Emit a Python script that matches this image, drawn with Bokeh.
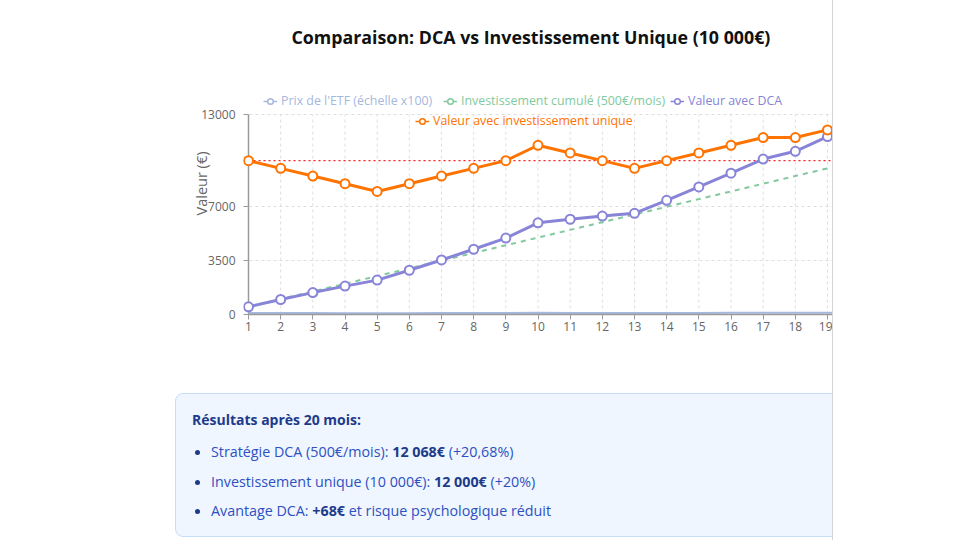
from bokeh.embed import file_html
from bokeh.layouts import column, row
from bokeh.models import (CDSView, ColumnDataSource, Div, FixedTicker, IndexFilter,
                          Legend, LegendItem, NumeralTickFormatter, Range1d, Span)
from bokeh.plotting import figure
from bokeh.resources import INLINE

# --- data -----------------------------------------------------------------
months = list(range(1, 21))
etf_price = [100, 95, 90, 85, 80, 85, 90, 95, 100, 110,
             105, 100, 95, 100, 105, 110, 115, 115, 120, 120]
invested = [500, 1000, 1500, 2000, 2500, 3000, 3500, 4000, 4500, 5000,
            5500, 6000, 6500, 7000, 7500, 8000, 8500, 9000, 9500, 10000]
dca_value = [500, 975, 1424, 1845, 2236, 2876, 3545, 4242, 4965, 5962,
             6191, 6396, 6576, 7422, 8293, 9188, 10106, 10606, 11567, 12068]
lump_value = [10000, 9500, 9000, 8500, 8000, 8500, 9000, 9500, 10000, 11000,
              10500, 10000, 9500, 10000, 10500, 11000, 11500, 11500, 12000, 12000]
lump_initial = 10000
monthly_amount = 500
y_ticks = [0, 3500, 7000, 13000]
y_max = 13000
last_visible_month = 19

TITLE = "Comparaison: DCA vs Investissement Unique (10 000€)"
Y_LABEL = "Valeur (€)"
SERIES = [
    ("Prix de l'ETF (échelle x100)", "#a5b8de"),
    ("Investissement cumulé (500€/mois)", "#82ca9d"),
    ("Valeur avec DCA", "#8884d8"),
    ("Valeur avec investissement unique", "#ff7300"),
]

FONT = "Open Sans"
TICK_COLOR = "#666666"
AXIS_COLOR = "#9a9a9a"
GRID_COLOR = "#dedede"

# --- geometry of the chart canvas -------------------------------------------
W, H = 832, 385
FRAME_LEFT, FRAME_TOP, FRAME_BOTTOM = 243, 52, 314
Y_MAX_PX = 114                      # pixel row of the top tick
FIRST_X, LAST_X = 248, 827          # pixel centres of the first / last visible month
px_per_month = (LAST_X - FIRST_X) / (last_visible_month - months[0])
x_start = months[0] - (FIRST_X - FRAME_LEFT) / px_per_month
x_end = last_visible_month + (W - LAST_X) / px_per_month
y_end = y_max * (FRAME_BOTTOM - FRAME_TOP) / (FRAME_BOTTOM - Y_MAX_PX)

p = figure(width=W, height=H,
           x_range=Range1d(x_start, x_end), y_range=Range1d(0, y_end),
           output_backend="svg", toolbar_location=None,
           min_border_left=FRAME_LEFT, min_border_right=0,
           min_border_top=FRAME_TOP, min_border_bottom=H - FRAME_BOTTOM,
           background_fill_color="white", border_fill_color="white")
p.outline_line_color = None

p.title.text = TITLE
p.title.align = "left"
p.title.offset = 291 - FRAME_LEFT
p.title.standoff = 8
p.title.text_font = FONT
p.title.text_font_style = "bold"
p.title.text_font_size = "17.8px"
p.title.text_color = "#111111"

# grid: horizontal lines from the ticker, vertical lines drawn per month up to the top tick
p.xgrid.visible = False
p.ygrid.ticker = FixedTicker(ticks=y_ticks)
p.ygrid.grid_line_color = GRID_COLOR
p.ygrid.grid_line_dash = "3 3"
p.segment(x0=months, y0=[0] * len(months), x1=months, y1=[y_max] * len(months),
          line_color=GRID_COLOR, line_dash="3 3", line_width=1)

# y axis: ticks from the frame edge, axis line drawn at the first month
p.yaxis.ticker = FixedTicker(ticks=y_ticks)
p.yaxis.bounds = (0, y_max)
p.yaxis.formatter = NumeralTickFormatter(format="0")
p.yaxis.axis_line_color = None
p.yaxis.major_tick_in = 5
p.yaxis.major_tick_out = 0
p.yaxis.major_tick_line_color = AXIS_COLOR
p.yaxis.minor_tick_line_color = None
p.yaxis.major_label_standoff = 8
p.yaxis.major_label_text_color = TICK_COLOR
p.yaxis.major_label_text_font = FONT
p.yaxis.major_label_text_font_size = "12px"
p.yaxis.axis_label = Y_LABEL
p.yaxis.axis_label_standoff = -13
p.yaxis.axis_label_text_font = FONT
p.yaxis.axis_label_text_font_style = "normal"
p.yaxis.axis_label_text_font_size = "14.5px"
p.yaxis.axis_label_text_color = TICK_COLOR
p.segment(x0=[months[0]], y0=[0], x1=[months[0]], y1=[y_max],
          line_color=AXIS_COLOR, line_width=1.5)

p.xaxis.ticker = FixedTicker(ticks=months)
p.xaxis.bounds = (months[0], x_end)
p.xaxis.axis_line_color = AXIS_COLOR
p.xaxis.axis_line_width = 1.5
p.xaxis.major_tick_in = 0
p.xaxis.major_tick_out = 5
p.xaxis.major_tick_line_color = AXIS_COLOR
p.xaxis.minor_tick_line_color = None
p.xaxis.major_label_standoff = 2
p.xaxis.major_label_text_color = TICK_COLOR
p.xaxis.major_label_text_font = FONT
p.xaxis.major_label_text_font_size = "12px"

p.add_layout(Span(location=lump_initial, dimension="width", line_color="#ff2020",
                  line_width=1.2, line_dash="2 3", level="underlay"))

# --- series -----------------------------------------------------------------
src = ColumnDataSource(dict(month=months, etf=etf_price, invested=invested,
                            dca=dca_value, lump=lump_value))

p.line("month", "etf", source=src, line_color=SERIES[0][1], line_width=2)
p.line("month", "invested", source=src, line_color=SERIES[1][1], line_width=2, line_dash="5 5")
p.line("month", "dca", source=src, line_color=SERIES[2][1], line_width=3)
p.scatter("month", "dca", source=src, size=9, fill_color="white",
          line_color=SERIES[2][1], line_width=2)
p.line("month", "lump", source=src, line_color=SERIES[3][1], line_width=3)
p.scatter("month", "lump", source=src, size=9, fill_color="white",
          line_color=SERIES[3][1], line_width=2)

# legend icons: a short solid line with a hollow dot (single-point helpers draw nothing on the plot)
def legend_entry(label, color, vx, vy):
    ln = p.line("month", "etf", source=src, view=CDSView(filter=IndexFilter([0])),
                line_color=color, line_width=1.5)
    dot = p.scatter("month", "etf", source=src, view=CDSView(filter=IndexFilter([0])),
                    size=0, fill_color="white", line_color=color, line_width=1.5)
    lg = Legend(items=[LegendItem(label=label, renderers=[ln, dot])],
                location=(vx, vy), orientation="horizontal",
                padding=0, margin=0, spacing=0,
                glyph_width=14, glyph_height=16, label_height=16, label_standoff=4,
                label_text_font=FONT, label_text_font_size="12.4px",
                label_text_color=color,
                background_fill_alpha=0, border_line_alpha=0)
    p.add_layout(lg, "center")

legend_rows = [(263, 101), (443, 101), (670, 101), (415, 121)]
for (label, color), (lx, ly) in zip(SERIES, legend_rows):
    legend_entry(label, color, lx - FRAME_LEFT, FRAME_BOTTOM - (ly + 8))

# --- results panel ------------------------------------------------------------
def fr_number(v):
    return f"{v:,.0f}".replace(",", " ")

def fr_pct(v):
    s = f"{v:.2f}".rstrip("0").rstrip(".")
    return s.replace(".", ",")

n_months = months[-1]
dca_final = dca_value[-1]
lump_final = lump_value[-1]
dca_total = invested[-1]
dca_gain = (dca_final - dca_total) / dca_total * 100
lump_gain = (lump_final - lump_initial) / lump_initial * 100
advantage = dca_final - lump_final

HEAD = "#1e3a8a"
BODY = "#2d50c2"
lines = [
    f"Stratégie DCA ({monthly_amount}€/mois): <b style='color:{HEAD}'>{fr_number(dca_final)}€</b> (+{fr_pct(dca_gain)}%)",
    f"Investissement unique ({fr_number(lump_initial)}€): <b style='color:{HEAD}'>{fr_number(lump_final)}€</b> (+{fr_pct(lump_gain)}%)",
    f"Avantage DCA: <b style='color:{HEAD}'>+{fr_number(advantage)}€</b> et risque psychologique réduit",
]
items_html = ""
for i, txt in enumerate(lines):
    top = 48 + i * 29.5
    items_html += (
        f"<div style='position:absolute;left:19px;top:{top + 8}px;width:5px;height:5px;"
        f"border-radius:50%;background:{HEAD};'></div>"
        f"<div style='position:absolute;left:35px;top:{top}px;height:20px;line-height:20px;"
        f"font-size:14.3px;color:{BODY};white-space:nowrap;'>{txt}</div>"
    )

panel_html = f"""
<div style="position:relative;width:{W}px;height:155px;overflow:hidden;font-family:'{FONT}',sans-serif;">
  <div style="position:absolute;left:175px;top:8px;width:720px;height:144px;box-sizing:border-box;
              background:#eff6ff;border:1px solid #c7dcf7;border-radius:8px;">
    <div style="position:absolute;left:16px;top:16px;height:20px;line-height:20px;font-size:14px;
                font-weight:700;color:{HEAD};white-space:nowrap;">Résultats après {n_months} mois:</div>
    {items_html}
  </div>
</div>
"""
results = Div(text=panel_html, width=W, height=155, margin=0)
edge = Div(text="", width=1, height=540, margin=0, styles={"background-color": "#d4d4d4"})

layout = row(column(p, results, spacing=0), edge, spacing=0)

with open("out.html", "w") as f:
    f.write(file_html(layout, INLINE))
